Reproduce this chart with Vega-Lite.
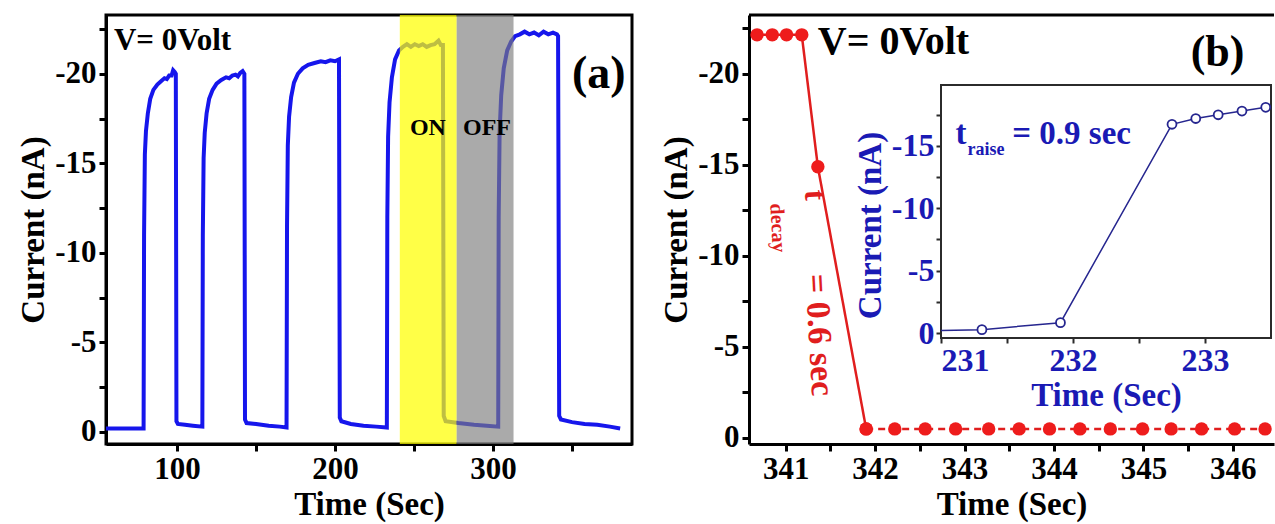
{
  "$schema": "https://vega.github.io/schema/vega-lite/v6.json",
  "background": "white",
  "padding": {"left": 16, "top": 13, "right": 0, "bottom": 0},
  "config": {
    "font": "Liberation Serif",
    "view": {"stroke": null},
    "axis": {
      "grid": false,
      "labelFont": "Liberation Serif",
      "labelFontWeight": "bold",
      "labelFontSize": 31,
      "labelColor": "black",
      "labelPadding": 3,
      "titleFont": "Liberation Serif",
      "titleFontWeight": "bold",
      "titleFontSize": 33,
      "titleColor": "black",
      "titlePadding": 4,
      "domainColor": "black",
      "domainWidth": 3,
      "tickColor": "black",
      "tickWidth": 3,
      "tickSize": 7
    }
  },
  "datasets": {
    "sweep": [
      {"t": 55, "i": -0.2}, {"t": 78.8, "i": -0.2}, {"t": 79.1, "i": -11}, {"t": 79.6, "i": -15.5}, {"t": 80.3, "i": -16.8}, {"t": 81.5, "i": -17.8}, {"t": 83, "i": -18.6}, {"t": 85, "i": -19.1}, {"t": 87.5, "i": -19.4}, {"t": 90, "i": -19.6}, {"t": 92, "i": -19.75}, {"t": 93.5, "i": -19.7}, {"t": 95, "i": -19.9}, {"t": 96.5, "i": -19.9}, {"t": 97.5, "i": -20.2}, {"t": 98.5, "i": -20.1}, {"t": 99.2, "i": -20.0}, {"t": 99.6, "i": -0.6}, {"t": 100.5, "i": -0.45}, {"t": 105, "i": -0.4}, {"t": 110, "i": -0.35}, {"t": 116, "i": -0.3},
      {"t": 116.3, "i": -11}, {"t": 116.8, "i": -15.3}, {"t": 117.5, "i": -16.7}, {"t": 118.7, "i": -17.8}, {"t": 120.3, "i": -18.6}, {"t": 122.5, "i": -19.1}, {"t": 125, "i": -19.45}, {"t": 128, "i": -19.65}, {"t": 131, "i": -19.8}, {"t": 133, "i": -19.75}, {"t": 135, "i": -19.9}, {"t": 137, "i": -19.95}, {"t": 138.5, "i": -19.85}, {"t": 140, "i": -20.05}, {"t": 141.5, "i": -20.15}, {"t": 142.6, "i": -20.0}, {"t": 143, "i": -0.7}, {"t": 144, "i": -0.5}, {"t": 150, "i": -0.45}, {"t": 158, "i": -0.35}, {"t": 165, "i": -0.3}, {"t": 169.3, "i": -0.25},
      {"t": 169.6, "i": -11.5}, {"t": 170.1, "i": -16}, {"t": 170.9, "i": -17.6}, {"t": 172.2, "i": -18.7}, {"t": 174, "i": -19.5}, {"t": 176.5, "i": -20.0}, {"t": 179.5, "i": -20.3}, {"t": 183, "i": -20.5}, {"t": 187, "i": -20.6}, {"t": 191, "i": -20.7}, {"t": 194, "i": -20.65}, {"t": 197, "i": -20.75}, {"t": 200, "i": -20.7}, {"t": 202.5, "i": -20.8}, {"t": 203, "i": -0.8}, {"t": 204, "i": -0.6}, {"t": 210, "i": -0.45}, {"t": 218, "i": -0.35}, {"t": 226, "i": -0.3}, {"t": 232.8, "i": -0.25},
      {"t": 233.1, "i": -12}, {"t": 233.6, "i": -16.5}, {"t": 234.5, "i": -18.4}, {"t": 236, "i": -19.8}, {"t": 238, "i": -20.8}, {"t": 240.5, "i": -21.3}, {"t": 243, "i": -21.5}, {"t": 245.5, "i": -21.65}, {"t": 248, "i": -21.5}, {"t": 250.5, "i": -21.65}, {"t": 253, "i": -21.55}, {"t": 255.5, "i": -21.65}, {"t": 258, "i": -21.5}, {"t": 260.5, "i": -21.6}, {"t": 263, "i": -21.65}, {"t": 265.5, "i": -21.85}, {"t": 267, "i": -21.6}, {"t": 268.3, "i": -21.6}, {"t": 268.8, "i": -0.9}, {"t": 270, "i": -0.6}, {"t": 278, "i": -0.5}, {"t": 288, "i": -0.4}, {"t": 296, "i": -0.35}, {"t": 303.3, "i": -0.3},
      {"t": 303.6, "i": -12}, {"t": 304.2, "i": -16.8}, {"t": 305.2, "i": -18.8}, {"t": 306.8, "i": -20.3}, {"t": 309, "i": -21.3}, {"t": 311.5, "i": -21.8}, {"t": 314, "i": -22.1}, {"t": 317, "i": -22.2}, {"t": 320, "i": -22.35}, {"t": 323, "i": -22.2}, {"t": 326, "i": -22.3}, {"t": 329, "i": -22.15}, {"t": 332, "i": -22.35}, {"t": 335, "i": -22.2}, {"t": 338, "i": -22.3}, {"t": 340.5, "i": -22.2}, {"t": 341.2, "i": -22.1}, {"t": 341.9, "i": -0.9}, {"t": 343, "i": -0.7}, {"t": 350, "i": -0.55}, {"t": 358, "i": -0.45}, {"t": 366, "i": -0.4}, {"t": 374, "i": -0.3}, {"t": 380.5, "i": -0.2}
    ],
    "bands": [
      {"t": 241, "t_end": 277, "state": "ON"},
      {"t": 277, "t_end": 313, "state": "OFF"}
    ],
    "decay": [
      {"t": 340.68, "i": -22.15, "seg": "fall"},
      {"t": 340.85, "i": -22.15, "seg": "fall"},
      {"t": 341.01, "i": -22.15, "seg": "fall"},
      {"t": 341.18, "i": -22.15, "seg": "fall"},
      {"t": 341.36, "i": -14.9, "seg": "fall"},
      {"t": 341.90, "i": -0.5, "seg": "fall"},
      {"t": 341.90, "i": -0.5, "seg": "dark"},
      {"t": 342.22, "i": -0.5, "seg": "dark"},
      {"t": 342.56, "i": -0.5, "seg": "dark"},
      {"t": 342.90, "i": -0.5, "seg": "dark"},
      {"t": 343.27, "i": -0.5, "seg": "dark"},
      {"t": 343.61, "i": -0.5, "seg": "dark"},
      {"t": 343.95, "i": -0.5, "seg": "dark"},
      {"t": 344.29, "i": -0.5, "seg": "dark"},
      {"t": 344.63, "i": -0.5, "seg": "dark"},
      {"t": 344.99, "i": -0.5, "seg": "dark"},
      {"t": 345.31, "i": -0.5, "seg": "dark"},
      {"t": 345.65, "i": -0.5, "seg": "dark"},
      {"t": 346.02, "i": -0.5, "seg": "dark"},
      {"t": 346.36, "i": -0.5, "seg": "dark"},
      {"t": 346.70, "i": -0.5, "seg": "dark"}
    ],
    "rise": [
      {"t": 231.0, "i": -0.21},
      {"t": 231.31, "i": -0.27},
      {"t": 231.905, "i": -0.83},
      {"t": 232.75, "i": -16.74},
      {"t": 232.93, "i": -17.2},
      {"t": 233.1, "i": -17.5},
      {"t": 233.28, "i": -17.8},
      {"t": 233.46, "i": -18.1}
    ],
    "one": [{}]
  },
  "spacing": 26,
  "hconcat": [
    {
      "width": 526,
      "height": 429,
      "view": {"stroke": "black", "strokeWidth": 3},
      "layer": [
        {
          "data": {"name": "sweep"},
          "mark": {"type": "line", "color": "#1616ec", "strokeWidth": 4},
          "encoding": {
            "x": {
              "field": "t", "type": "quantitative",
              "scale": {"domain": [55, 388], "nice": false, "zero": false},
              "axis": {"title": "Time (Sec)", "values": [100, 150, 200, 250, 300, 350], "labelExpr": "datum.value % 100 === 0 ? '' + datum.value : ''"}
            },
            "y": {
              "field": "i", "type": "quantitative",
              "scale": {"domain": [-23.28, 0.67], "reverse": true, "nice": false, "zero": false},
              "axis": {"title": "Current (nA)", "values": [0, -2.5, -5, -7.5, -10, -12.5, -15, -17.5, -20, -22.5], "labelExpr": "datum.value % 5 === 0 ? '' + datum.value : ''"}
            }
          }
        },
        {
          "data": {"name": "bands"},
          "mark": {"type": "rect"},
          "encoding": {
            "x": {"field": "t", "type": "quantitative"},
            "x2": {"field": "t_end"},
            "color": {"field": "state", "type": "nominal", "scale": {"domain": ["ON", "OFF"], "range": ["#ffff00", "#7d7d7d"]}, "legend": null},
            "opacity": {"field": "state", "type": "nominal", "scale": {"domain": ["ON", "OFF"], "range": [0.72, 0.65]}, "legend": null}
          }
        },
        {
          "data": {"name": "one"},
          "mark": {"type": "text", "text": "V= 0Volt", "font": "Liberation Serif", "fontWeight": "bold", "fontSize": 31, "align": "left", "baseline": "alphabetic", "color": "black"},
          "encoding": {"x": {"datum": 60}, "y": {"datum": -21.3}}
        },
        {
          "data": {"name": "one"},
          "mark": {"type": "text", "text": "(a)", "font": "Liberation Serif", "fontWeight": "bold", "fontSize": 46, "align": "right", "baseline": "alphabetic", "color": "black"},
          "encoding": {"x": {"datum": 384}, "y": {"datum": -19.2}}
        },
        {
          "data": {"name": "one"},
          "mark": {"type": "text", "text": "ON", "font": "Liberation Serif", "fontWeight": "bold", "fontSize": 24, "align": "center", "baseline": "alphabetic", "color": "black"},
          "encoding": {"x": {"datum": 258.8}, "y": {"datum": -16.6}}
        },
        {
          "data": {"name": "one"},
          "mark": {"type": "text", "text": "OFF", "font": "Liberation Serif", "fontWeight": "bold", "fontSize": 24, "align": "center", "baseline": "alphabetic", "color": "black"},
          "encoding": {"x": {"datum": 296.2}, "y": {"datum": -16.6}}
        }
      ]
    },
    {
      "width": 525,
      "height": 429,
      "resolve": {"scale": {"x": "independent", "y": "independent"}, "axis": {"x": "independent", "y": "independent"}},
      "layer": [
        {
          "layer": [
            {
              "data": {"name": "decay"},
              "mark": {"type": "line", "color": "#e01e1e", "strokeWidth": 2.5, "clip": true},
              "encoding": {
                "x": {
                  "field": "t", "type": "quantitative",
                  "scale": {"domain": [340.59, 346.46], "nice": false, "zero": false},
                  "axis": {"title": "Time (Sec)", "orient": "bottom", "values": [341, 341.5, 342, 342.5, 343, 343.5, 344, 344.5, 345, 345.5, 346], "labelExpr": "datum.value % 1 === 0 ? '' + datum.value : ''"}
                },
                "y": {
                  "field": "i", "type": "quantitative",
                  "scale": {"domain": [-23.24, 0.33], "reverse": true, "nice": false, "zero": false},
                  "axis": {"title": "Current (nA)", "orient": "left", "values": [0, -2.5, -5, -7.5, -10, -12.5, -15, -17.5, -20, -22.5], "labelExpr": "datum.value % 5 === 0 ? '' + datum.value : ''"}
                },
                "strokeDash": {"field": "seg", "type": "nominal", "scale": {"domain": ["fall", "dark"], "range": [[1, 0], [7, 5]]}, "legend": null}
              }
            },
            {
              "data": {"name": "decay"},
              "mark": {"type": "circle", "color": "#ee1c1c", "size": 180, "opacity": 1, "clip": true},
              "encoding": {
                "x": {"field": "t", "type": "quantitative"},
                "y": {"field": "i", "type": "quantitative"}
              }
            },
            {
              "data": {"name": "one"},
              "mark": {"type": "rule", "color": "black", "strokeWidth": 3},
              "encoding": {"y": {"datum": -23.24}}
            },
            {
              "data": {"name": "one"},
              "mark": {"type": "text", "text": "V= 0Volt", "font": "Liberation Serif", "fontWeight": "bold", "fontSize": 40, "align": "left", "baseline": "alphabetic", "color": "black"},
              "encoding": {"x": {"datum": 341.36}, "y": {"datum": -21.1}}
            },
            {
              "data": {"name": "one"},
              "mark": {"type": "text", "text": "(b)", "font": "Liberation Serif", "fontWeight": "bold", "fontSize": 44, "align": "right", "baseline": "alphabetic", "color": "black"},
              "encoding": {"x": {"datum": 346.13}, "y": {"datum": -20.45}}
            },
            {
              "data": {"name": "one"},
              "mark": {"type": "text", "text": "t", "font": "Liberation Serif", "fontWeight": "bold", "fontSize": 32, "angle": 87, "align": "center", "baseline": "middle", "color": "#e01e1e"},
              "encoding": {"x": {"datum": 341.33}, "y": {"datum": -13.35}}
            },
            {
              "data": {"name": "one"},
              "mark": {"type": "text", "text": "decay", "font": "Liberation Serif", "fontWeight": "bold", "fontSize": 20, "angle": 87, "align": "center", "baseline": "middle", "color": "#e01e1e"},
              "encoding": {"x": {"datum": 340.91}, "y": {"datum": -11.54}}
            },
            {
              "data": {"name": "one"},
              "mark": {"type": "text", "text": "= 0.6 sec", "font": "Liberation Serif", "fontWeight": "bold", "fontSize": 34, "angle": 87, "align": "center", "baseline": "middle", "color": "#e01e1e"},
              "encoding": {"x": {"datum": 341.37}, "y": {"datum": -5.66}}
            }
          ]
        },
        {
          "layer": [
            {
              "data": {"name": "one"},
              "mark": {"type": "rect", "fill": "white", "stroke": "#2b2b2b", "strokeWidth": 2},
              "encoding": {
                "x": {"datum": 231},
                "x2": {"datum": 233.5},
                "y": {"datum": -19.89},
                "y2": {"datum": 0.4}
              }
            },
            {
              "data": {"name": "rise"},
              "mark": {"type": "line", "color": "#26268f", "strokeWidth": 1.5},
              "encoding": {
                "x": {
                  "field": "t", "type": "quantitative",
                  "scale": {"domain": [231, 233.5], "range": [192, 522], "nice": false, "zero": false},
                  "axis": {"title": "Time (Sec)", "orient": "bottom", "offset": -106, "domain": false, "values": [231, 231.5, 232, 232.5, 233], "labelExpr": "datum.value % 1 === 0 ? '' + datum.value : ''", "labelColor": "#1a1ab4", "titleColor": "#1a1ab4", "labelFontSize": 32, "titleFontSize": 33, "tickSize": 5, "tickWidth": 2, "tickColor": "#2b2b2b", "labelPadding": 2, "titlePadding": 3}
                },
                "y": {
                  "field": "i", "type": "quantitative",
                  "scale": {"domain": [-19.89, 0.4], "range": [70, 323], "nice": false, "zero": false},
                  "axis": {"title": "Current (nA)", "orient": "left", "offset": -192, "domain": false, "values": [0, -2.5, -5, -7.5, -10, -12.5, -15, -17.5], "labelExpr": "datum.value % 5 === 0 ? '' + datum.value : ''", "labelColor": "#1a1ab4", "titleColor": "#1a1ab4", "labelFontSize": 32, "titleFontSize": 33, "tickSize": 5, "tickWidth": 2, "tickColor": "#2b2b2b", "labelPadding": 2, "titlePadding": 4, "titleY": 210}
                }
              }
            },
            {
              "data": {"name": "rise"},
              "transform": [{"filter": "datum.t > 231.1"}],
              "mark": {"type": "point", "shape": "circle", "filled": true, "fill": "white", "fillOpacity": 1, "stroke": "#26268f", "strokeWidth": 1.8, "size": 80, "opacity": 1},
              "encoding": {
                "x": {"field": "t", "type": "quantitative"},
                "y": {"field": "i", "type": "quantitative"}
              }
            },
            {
              "data": {"name": "one"},
              "mark": {"type": "text", "text": "t", "font": "Liberation Serif", "fontWeight": "bold", "fontSize": 33, "align": "left", "baseline": "alphabetic", "color": "#1a1ab4"},
              "encoding": {"x": {"datum": 231.11}, "y": {"datum": -15.16}}
            },
            {
              "data": {"name": "one"},
              "mark": {"type": "text", "text": "raise", "font": "Liberation Serif", "fontWeight": "bold", "fontSize": 18, "align": "left", "baseline": "alphabetic", "color": "#1a1ab4"},
              "encoding": {"x": {"datum": 231.2}, "y": {"datum": -14.3}}
            },
            {
              "data": {"name": "one"},
              "mark": {"type": "text", "text": "= 0.9 sec", "font": "Liberation Serif", "fontWeight": "bold", "fontSize": 33, "align": "left", "baseline": "alphabetic", "color": "#1a1ab4"},
              "encoding": {"x": {"datum": 231.54}, "y": {"datum": -15.16}}
            }
          ]
        }
      ]
    }
  ]
}
